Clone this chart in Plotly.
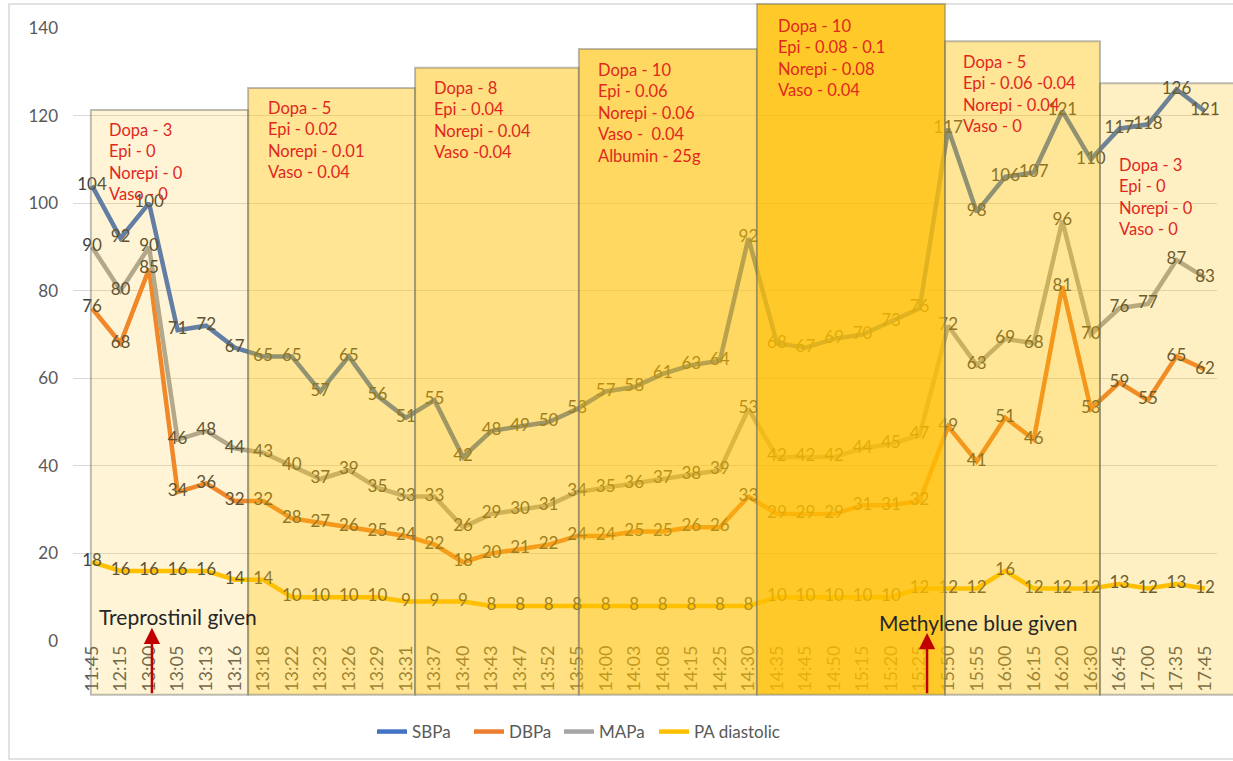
import plotly.graph_objects as go

# ---- data -------------------------------------------------------------
times = ["11:45", "12:15", "13:00", "13:05", "13:13", "13:16",
         "13:18", "13:22", "13:23", "13:26", "13:29", "13:31",
         "13:37", "13:40", "13:43", "13:47", "13:52", "13:55",
         "14:00", "14:03", "14:08", "14:15", "14:25", "14:30",
         "14:35", "14:45", "14:50", "15:15", "15:20", "15:25",
         "15:50", "15:55", "16:00", "16:15", "16:20", "16:30",
         "16:45", "17:00", "17:35", "17:45"]

sbpa = [104, 92, 100, 71, 72, 67, 65, 65, 57, 65, 56, 51, 55, 42, 48, 49, 50, 53,
        57, 58, 61, 63, 64, 92, 68, 67, 69, 70, 73, 76, 117, 98, 106, 107, 121, 110,
        117, 118, 126, 121]
dbpa = [76, 68, 85, 34, 36, 32, 32, 28, 27, 26, 25, 24, 22, 18, 20, 21, 22, 24,
        24, 25, 25, 26, 26, 33, 29, 29, 29, 31, 31, 32, 49, 41, 51, 46, 81, 53,
        59, 55, 65, 62]
mapa = [90, 80, 90, 46, 48, 44, 43, 40, 37, 39, 35, 33, 33, 26, 29, 30, 31, 34,
        35, 36, 37, 38, 39, 53, 42, 42, 42, 44, 45, 47, 72, 63, 69, 68, 96, 70,
        76, 77, 87, 83]
pa_diastolic = [18, 16, 16, 16, 16, 14, 14, 10, 10, 10, 10, 9, 9, 9, 8, 8, 8, 8,
                8, 8, 8, 8, 8, 8, 10, 10, 10, 10, 10, 12, 12, 12, 16, 12, 12, 12,
                13, 12, 13, 12]

series_names = ["SBPa", "DBPa", "MAPa", "PA diastolic"]

# infusion settings for each treatment phase
phase_notes = [
    ["Dopa - 3", "Epi - 0", "Norepi - 0", "Vaso - 0"],
    ["Dopa - 5", "Epi - 0.02", "Norepi - 0.01", "Vaso - 0.04"],
    ["Dopa - 8", "Epi - 0.04", "Norepi - 0.04", "Vaso -0.04"],
    ["Dopa - 10", "Epi - 0.06", "Norepi - 0.06", "Vaso -  0.04", "Albumin - 25g"],
    ["Dopa - 10", "Epi - 0.08 - 0.1", "Norepi - 0.08", "Vaso - 0.04"],
    ["Dopa - 5", "Epi - 0.06 -0.04", "Norepi - 0.04", "Vaso - 0"],
    ["Dopa - 3", "Epi - 0", "Norepi - 0", "Vaso - 0"],
]

events = ["Treprostinil given", "Methylene blue given"]

# ---- layout geometry ----------------------------------------------------
W, H = 1233, 761
ML, MR, MT, MB = 73, 16, 28, 120
X0, X1 = -0.666, 39.42          # x range in category-index units
Y0, Y1 = 0, 140

# band edges (category-index units), band tops (mmHg), fill strength
band_edges = [(-0.04, 5.47), (5.47, 11.32), (11.32, 17.06), (17.06, 23.30),
              (23.30, 29.89), (29.89, 35.32), (35.32, 40.2)]
band_tops = [121.3, 126.3, 130.9, 135.2, 145.5, 137.0, 127.4]
band_alpha = [0.16, 0.42, 0.49, 0.62, 0.84, 0.41, 0.23]
band_bottom = -12.3
# note text anchors: (left edge index, top in mmHg)
note_pos = [(0.52, 119.4), (6.08, 124.5), (11.9, 129.1), (17.65, 133.2),
            (23.95, 143.3), (30.45, 134.9), (35.9, 111.4)]
# legend entry left edges (pixels)
legend_left_px = [372, 469, 559, 654]

PW = W - ML - MR
PH = H - MT - MB


def xp(i):
    return (i - X0) / (X1 - X0)


def yp(v):
    return (v - Y0) / (Y1 - Y0)


def px_x(px):
    return (px - ML) / PW


def px_y(py):
    return (H - MB - py) / PH


FONT = "Lato"
colors = ["#4472C4", "#ED7D31", "#A5A5A5", "#FFC000"]
values = [sbpa, dbpa, mapa, pa_diastolic]
idx = list(range(len(times)))
legend_ids = ["legend", "legend2", "legend3", "legend4"]

fig = go.Figure()

for name, col, vals, lid in zip(series_names, colors, values, legend_ids):
    fig.add_trace(go.Scatter(
        x=idx, y=vals, name=name, mode="lines",
        line=dict(color=col, width=4.5), legend=lid,
        hoverinfo="skip", cliponaxis=False,
    ))

for name, vals in zip(series_names, values):
    fig.add_trace(go.Scatter(
        x=idx, y=vals, mode="text", text=[str(v) for v in vals],
        textposition="middle center",
        textfont=dict(family=FONT, size=17, color="#404040"),
        showlegend=False, hoverinfo="skip", cliponaxis=False,
    ))

shapes = []
# chart frame
shapes.append(dict(type="rect", xref="paper", yref="paper",
                   x0=px_x(9), x1=px_x(1260), y0=px_y(759), y1=px_y(4),
                   line=dict(color="#D9D9D9", width=1.5), layer="below"))

for (a, b), top, al in zip(band_edges, band_tops, band_alpha):
    shapes.append(dict(
        type="rect", xref="paper", yref="paper",
        x0=xp(a), x1=xp(b), y0=yp(band_bottom), y1=yp(top),
        fillcolor=f"rgba(255,192,0,{al})",
        line=dict(color="rgba(110,110,100,0.45)", width=2),
        layer="above",
    ))

annotations = []
for lines, (nx, ny) in zip(phase_notes, note_pos):
    annotations.append(dict(
        x=xp(nx), y=yp(ny), xref="paper", yref="paper",
        xanchor="left", yanchor="top", align="left",
        text="<br>".join(lines), showarrow=False,
        font=dict(family=FONT, size=16.5, color="#E0281E"),
    ))

# event markers: label position and arrow column (index units)
event_text_pos = [(0.18, 5.6), (27.5, 4.3)]
event_arrow_x = [2.1, 29.26]
event_arrow_tip = [3.0, 1.8]
for txt, (tx, ty) in zip(events, event_text_pos):
    annotations.append(dict(
        x=xp(tx), y=yp(ty), xref="paper", yref="paper",
        xanchor="left", yanchor="middle", text=txt, showarrow=False,
        font=dict(family=FONT, size=21, color="#262626"),
    ))
for ax_i, tip in zip(event_arrow_x, event_arrow_tip):
    annotations.append(dict(
        x=xp(ax_i), y=yp(tip), xref="paper", yref="paper",
        ax=0, ay=(tip - band_bottom) * PH / (Y1 - Y0),
        axref="pixel", ayref="pixel",
        text="", showarrow=True, arrowhead=2, arrowsize=1.3,
        arrowwidth=2.5, arrowcolor="#C00000",
    ))

legend_layout = {}
for lid, lx in zip(legend_ids, legend_left_px):
    legend_layout[lid] = dict(
        orientation="h", x=px_x(lx), y=px_y(732),
        xanchor="left", yanchor="middle",
        font=dict(family=FONT, size=17, color="#595959"),
        bgcolor="rgba(0,0,0,0)", itemwidth=30,
    )

fig.update_layout(
    width=W, height=H,
    margin=dict(l=ML, r=MR, t=MT, b=MB, autoexpand=False),
    paper_bgcolor="white", plot_bgcolor="white",
    font=dict(family=FONT, color="#595959"),
    showlegend=True,
    shapes=shapes, annotations=annotations,
    **legend_layout,
)

fig.update_xaxes(
    range=[X0, X1], tickmode="array", tickvals=idx, ticktext=times,
    tickangle=-90, tickfont=dict(family=FONT, size=18, color="#595959"),
    showgrid=False, zeroline=False, showline=False, ticks="",
)
fig.update_yaxes(
    range=[Y0, Y1], tickmode="array", tickvals=list(range(0, 141, 20)),
    tickfont=dict(family=FONT, size=17, color="#595959"),
    showgrid=True, gridcolor="#D9D9D9", gridwidth=1,
    zeroline=False, showline=False, ticks="", ticklabelstandoff=14,
)

fig.write_html("out.html")
